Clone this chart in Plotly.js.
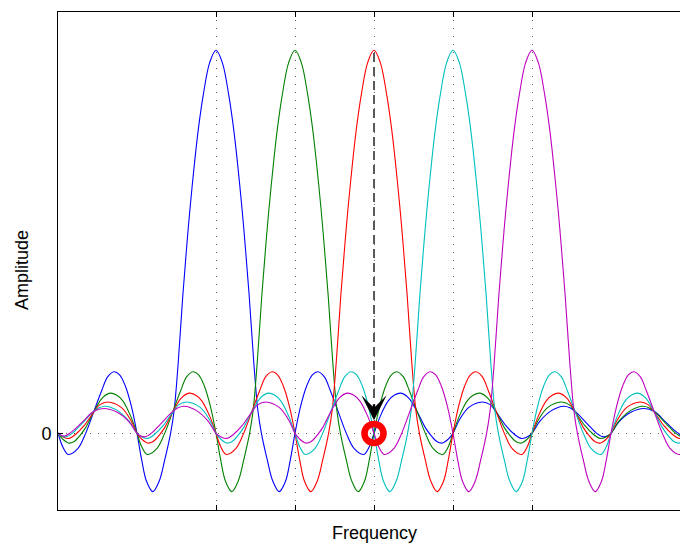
<!DOCTYPE html>
<html>
<head>
<meta charset="utf-8">
<script src="https://cdn.plot.ly/plotly-3.0.1.min.js"></script>
<style>
html,body{margin:0;padding:0;overflow:hidden;background:#ffffff;}
#chart{width:692px;height:545px;}
</style>
</head>
<body>
<div id="chart"></div>
<script>
// Subcarrier centre frequencies (in subcarrier-spacing units) and colours
const carrierCenters = [2, 3, 4, 5, 6];
const carrierColors = ['#0000ff', '#008000', '#ff0000', '#00bfbf', '#bf00bf'];

// Shape of one subcarrier pulse (offset from its centre -> amplitude)
const pulseOffsets = [0, 0.08, 0.16, 0.22, 0.27, 0.33, 0.37, 0.42, 0.48, 0.53, 0.575, 0.65, 0.72, 0.80, 0.88, 0.94,
  1.00, 1.07, 1.15, 1.22, 1.29, 1.37, 1.45, 1.55, 1.65, 1.75, 1.87, 1.94,
  2.00, 2.08, 2.18, 2.26, 2.34, 2.44, 2.55, 2.65, 2.72, 2.80, 2.87, 2.94,
  3.00, 3.08, 3.20, 3.37, 3.47, 3.55, 3.67, 3.78, 3.86, 3.93,
  4.00, 4.10, 4.25, 4.40, 4.48, 4.55, 4.70, 4.82, 4.90, 4.96,
  5.00, 5.10, 5.25, 5.42, 5.55, 5.70, 5.84, 5.92, 6.00];
const pulseValues = [1.000, 0.968, 0.885, 0.800, 0.710, 0.585, 0.490, 0.360, 0.180, 0.060, 0.000, -0.070, -0.125, -0.152, -0.125, -0.070,
  0.000, 0.070, 0.125, 0.153, 0.161, 0.148, 0.110, 0.055, 0.000, -0.040, -0.055, -0.035,
  0.000, 0.045, 0.085, 0.100, 0.105, 0.092, 0.055, 0.015, -0.005, -0.022, -0.025, -0.015,
  0.000, 0.035, 0.068, 0.082, 0.075, 0.055, 0.020, -0.003, -0.013, -0.010,
  0.000, 0.032, 0.060, 0.071, 0.067, 0.057, 0.025, 0.000, -0.009, -0.006,
  0.000, 0.030, 0.055, 0.065, 0.057, 0.028, 0.002, -0.007, 0.000];

// Axis ticks
const xTickVals = [2, 3, 4, 5, 6];
const xTickText = ['', '', '', '', ''];
const yTickVals = [0];
const yTickText = ['0'];
const xRange = [0, 8];
const yRange = [-0.2, 1.1];

// Marked point (orthogonality) and pointer
const markFreq = [4];
const markAmp = [0];
const pointerTop = 0.993;
const pointerTail = 0.08;
const pointerTip = 0.034;

const labels = {x: 'Frequency', y: 'Amplitude'};

// Build the full symmetric pulse (negative offsets mirror the positive ones)
const fullOffsets = [];
const fullValues = [];
for (let i = pulseOffsets.length - 1; i > 0; i--) { fullOffsets.push(-pulseOffsets[i]); fullValues.push(pulseValues[i]); }
for (let i = 0; i < pulseOffsets.length; i++) { fullOffsets.push(pulseOffsets[i]); fullValues.push(pulseValues[i]); }

const traces = carrierCenters.map((c, k) => {
  const xs = [], ys = [];
  fullOffsets.forEach((o, i) => {
    const x = c + o;
    if (x >= xRange[0] - 0.2 && x <= xRange[1] + 0.2) { xs.push(x); ys.push(fullValues[i]); }
  });
  return {
    type: 'scatter', mode: 'lines', x: xs, y: ys,
    line: {color: carrierColors[k], width: 1.1, shape: 'spline', smoothing: 1},
    hoverinfo: 'skip', showlegend: false
  };
});

traces.push({
  type: 'scatter', mode: 'markers', x: markFreq, y: markAmp,
  marker: {symbol: 'circle-open', size: 19, color: '#ff0000', line: {width: 6.5, color: '#ff0000'}},
  hoverinfo: 'skip', showlegend: false
});

const gridStyle = {showgrid: true, gridcolor: 'rgba(40,40,40,0.75)', gridwidth: 1, griddash: '1px,7px'};

const layout = {
  width: 692, height: 545,
  margin: {l: 58, r: 2, t: 12, b: 35},
  paper_bgcolor: '#ffffff', plot_bgcolor: '#ffffff',
  font: {family: '"Liberation Sans", Arial, sans-serif', size: 18, color: '#000000'},
  xaxis: Object.assign({
    range: xRange, tickmode: 'array', tickvals: xTickVals, ticktext: xTickText,
    ticks: 'inside', ticklen: 5, tickcolor: '#000000', tickwidth: 1,
    showline: true, linecolor: '#000000', linewidth: 1, mirror: 'ticks',
    zeroline: false, fixedrange: true
  }, gridStyle),
  yaxis: Object.assign({
    range: yRange, tickmode: 'array', tickvals: yTickVals, ticktext: yTickText,
    ticks: 'inside', ticklen: 5, tickcolor: '#000000', tickwidth: 1,
    showline: true, linecolor: '#000000', linewidth: 1, mirror: 'ticks',
    zeroline: false, fixedrange: true, ticklabelstandoff: 2,
    tickfont: {size: 18}
  }, gridStyle),
  shapes: [{
    type: 'line', xref: 'x', yref: 'y', x0: markFreq[0], x1: markFreq[0], y0: pointerTop, y1: pointerTail,
    line: {color: '#5a5a5a', width: 2, dash: '9px,5px'}, layer: 'above'
  }],
  annotations: [
    {x: markFreq[0], y: pointerTip, xref: 'x', yref: 'y', ax: markFreq[0], ay: pointerTail, axref: 'x', ayref: 'y',
     text: '', showarrow: true, arrowhead: 3, arrowsize: 1.75, arrowwidth: 2.4, arrowcolor: '#000000', standoff: 0},
    {x: 0.5, y: -0.046, xref: 'paper', yref: 'paper', text: labels.x, showarrow: false,
     xanchor: 'center', yanchor: 'middle', font: {size: 18}},
    {x: -0.057, y: 0.482, xref: 'paper', yref: 'paper', text: labels.y, showarrow: false, textangle: -90,
     xanchor: 'center', yanchor: 'middle', font: {size: 18}}
  ]
};

Plotly.newPlot('chart', traces, layout, {displayModeBar: false, staticPlot: true});
</script>
</body>
</html>
